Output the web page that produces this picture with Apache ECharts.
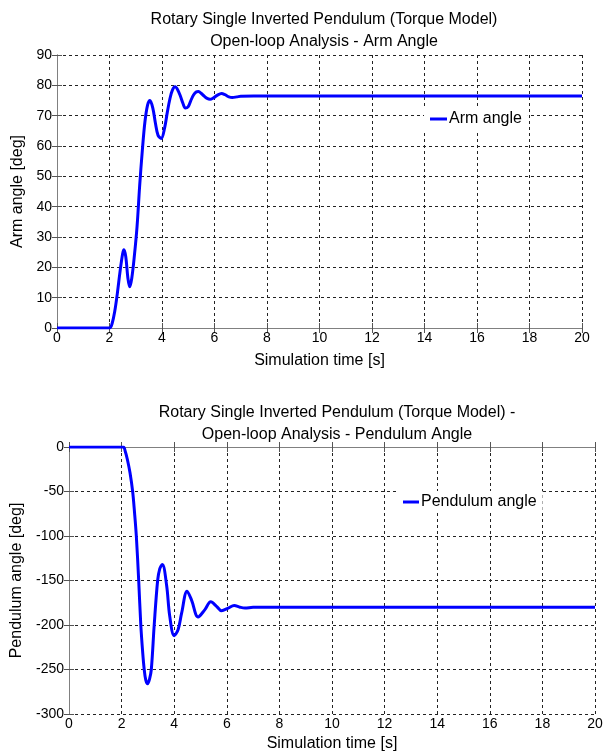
<!DOCTYPE html>
<html>
<head>
<meta charset="utf-8">
<script src="https://cdn.jsdelivr.net/npm/echarts@6/dist/echarts.min.js"></script>
<style>
  html, body { margin: 0; padding: 0; background: #fff; }
  #chart { width: 608px; height: 753px; }
</style>
</head>
<body>
<div id="chart"></div>
<script>
// arm angle (top plot)
var armTime = [0, 1, 1.5, 2.0, 2.1, 2.2, 2.3, 2.4, 2.5, 2.55, 2.62, 2.7, 2.77, 2.85, 2.95, 3.05, 3.15, 3.25, 3.35, 3.45, 3.54, 3.65, 3.75, 3.85, 3.97, 4.1, 4.2, 4.3, 4.4, 4.5, 4.6, 4.7, 4.8, 4.89, 5.0, 5.1, 5.2, 5.3, 5.39, 5.5, 5.6, 5.7, 5.83, 5.95, 6.1, 6.27, 6.4, 6.55, 6.68, 6.85, 7.0, 7.5, 8, 9, 10, 12, 14, 16, 18, 20];
var armAngle = [0, 0, 0, 0, 1.5, 5.5, 11.5, 18.5, 24.5, 25.8, 23.5, 16.5, 13.6, 16.5, 24, 33.5, 47, 58.5, 68, 73.5, 75, 72.5, 67.5, 63.5, 62.5, 66, 71, 75.5, 78.5, 79.5, 78.5, 76.5, 74, 72.5, 73, 75, 76.8, 77.8, 78, 77.3, 76.5, 75.8, 75.4, 75.8, 76.7, 77.3, 76.9, 76.2, 76, 76.2, 76.4, 76.5, 76.5, 76.5, 76.5, 76.5, 76.5, 76.5, 76.5, 76.5];

// pendulum angle (bottom plot)
var pendTime = [0, 1, 1.6, 2.06, 2.14, 2.22, 2.32, 2.42, 2.49, 2.56, 2.65, 2.73, 2.80, 2.86, 2.92, 2.99, 3.06, 3.13, 3.24, 3.37, 3.45, 3.55, 3.71, 3.83, 4.0, 4.15, 4.28, 4.49, 4.66, 4.91, 5.16, 5.39, 5.61, 5.8, 6.05, 6.28, 6.5, 6.69, 7, 7.5, 8, 9, 10, 12, 14, 16, 18, 20];
var pendAngle = [0, 0, 0, 0, -5, -14, -29, -50, -73, -100, -150, -200, -230, -250, -262, -266, -261, -250, -200, -150, -137, -132, -155, -190, -212, -205, -187, -162, -172, -191, -183, -174, -179, -184, -181, -178, -180, -181, -180, -180, -180, -180, -180, -180, -180, -180, -180, -180];

var titles = [
  "Rotary Single Inverted Pendulum (Torque Model)\nOpen-loop Analysis - Arm Angle",
  "Rotary Single Inverted Pendulum (Torque Model) -\nOpen-loop Analysis - Pendulum Angle"
];

var FONT = "Liberation Sans, Arial, sans-serif";

function zip(xs, ys) {
  return xs.map(function (x, i) { return [x, ys[i]]; });
}

var gridLine = { show: true, lineStyle: { color: "#222", type: [3, 3], width: 1 } };
var frameLine = { show: true, lineStyle: { color: "#808080", width: 1 } };
var tickIn = { show: true, inside: true, length: 5, lineStyle: { color: "#555" } };

function mainX(gi, gap) {
  return {
    type: "value", gridIndex: gi, min: 0, max: 20, interval: 2,
    name: "Simulation time [s]", nameLocation: "middle", nameGap: gap,
    nameTextStyle: { fontFamily: FONT, fontSize: 16, color: "#000" },
    axisLine: frameLine, axisTick: tickIn, splitLine: gridLine,
    axisLabel: { fontFamily: FONT, fontSize: 14, color: "#000", margin: 3 }
  };
}
function mirrorX(gi) {
  return {
    type: "value", gridIndex: gi, position: "top", min: 0, max: 20, interval: 2,
    axisLine: frameLine, axisTick: tickIn, splitLine: { show: false },
    axisLabel: { show: false }
  };
}
function mainY(gi, name, min, max, interval, gap) {
  return {
    type: "value", gridIndex: gi, min: min, max: max, interval: interval,
    name: name, nameLocation: "middle", nameGap: gap,
    nameTextStyle: { fontFamily: FONT, fontSize: 16, color: "#000" },
    axisLine: frameLine, axisTick: tickIn, splitLine: gridLine,
    axisLabel: { fontFamily: FONT, fontSize: 14, color: "#000", margin: 5 }
  };
}
function mirrorY(gi, min, max, interval) {
  return {
    type: "value", gridIndex: gi, position: "right", min: min, max: max, interval: interval,
    axisLine: frameLine, axisTick: tickIn, splitLine: { show: false },
    axisLabel: { show: false }
  };
}

var chart = echarts.init(document.getElementById("chart"));

var option = {
  backgroundColor: "#fff",
  animation: false,
  title: [
    {
      text: titles[0], left: 319, top: 4, textAlign: "center",
      textStyle: { fontFamily: FONT, fontSize: 16, fontWeight: "normal", color: "#000", lineHeight: 22 }
    },
    {
      text: titles[1], left: 332, top: 397, textAlign: "center",
      textStyle: { fontFamily: FONT, fontSize: 16, fontWeight: "normal", color: "#000", lineHeight: 22 }
    }
  ],
  grid: [
    { left: 57, top: 55, width: 525, height: 273 },
    { left: 69, top: 447, width: 526, height: 272 }
  ],
  legend: [
    {
      data: ["Arm angle"], left: 424, top: 108, backgroundColor: "#fff",
      padding: [3, 6, 3, 6], icon: "rect", itemWidth: 17, itemHeight: 3,
      textStyle: { fontFamily: FONT, fontSize: 16, color: "#000", padding: [0, 0, 0, -3] }
    },
    {
      data: ["Pendulum angle"], left: 397, top: 491, backgroundColor: "#fff",
      padding: [3, 6, 3, 6], icon: "rect", itemWidth: 16, itemHeight: 3,
      textStyle: { fontFamily: FONT, fontSize: 16, color: "#000", padding: [0, 0, 0, -3] }
    }
  ],
  xAxis: [mainX(0, 25), mirrorX(0), mainX(1, 22), mirrorX(1)],
  yAxis: [
    mainY(0, "Arm angle [deg]", 0, 90, 10, 27), mirrorY(0, 0, 90, 10),
    mainY(1, "Pendulum angle [deg]", -300, 0, 50, 41), mirrorY(1, -300, 0, 50)
  ],
  series: [
    {
      name: "Arm angle", type: "line", xAxisIndex: 0, yAxisIndex: 0,
      data: zip(armTime, armAngle), showSymbol: false, smooth: 0.35,
      lineStyle: { color: "#0000ff", width: 3 }, itemStyle: { color: "#0000ff" }
    },
    {
      name: "Pendulum angle", type: "line", xAxisIndex: 2, yAxisIndex: 2,
      data: zip(pendTime, pendAngle), showSymbol: false, smooth: 0.35,
      lineStyle: { color: "#0000ff", width: 3 }, itemStyle: { color: "#0000ff" }
    }
  ]
};

chart.setOption(option);
</script>
</body>
</html>
